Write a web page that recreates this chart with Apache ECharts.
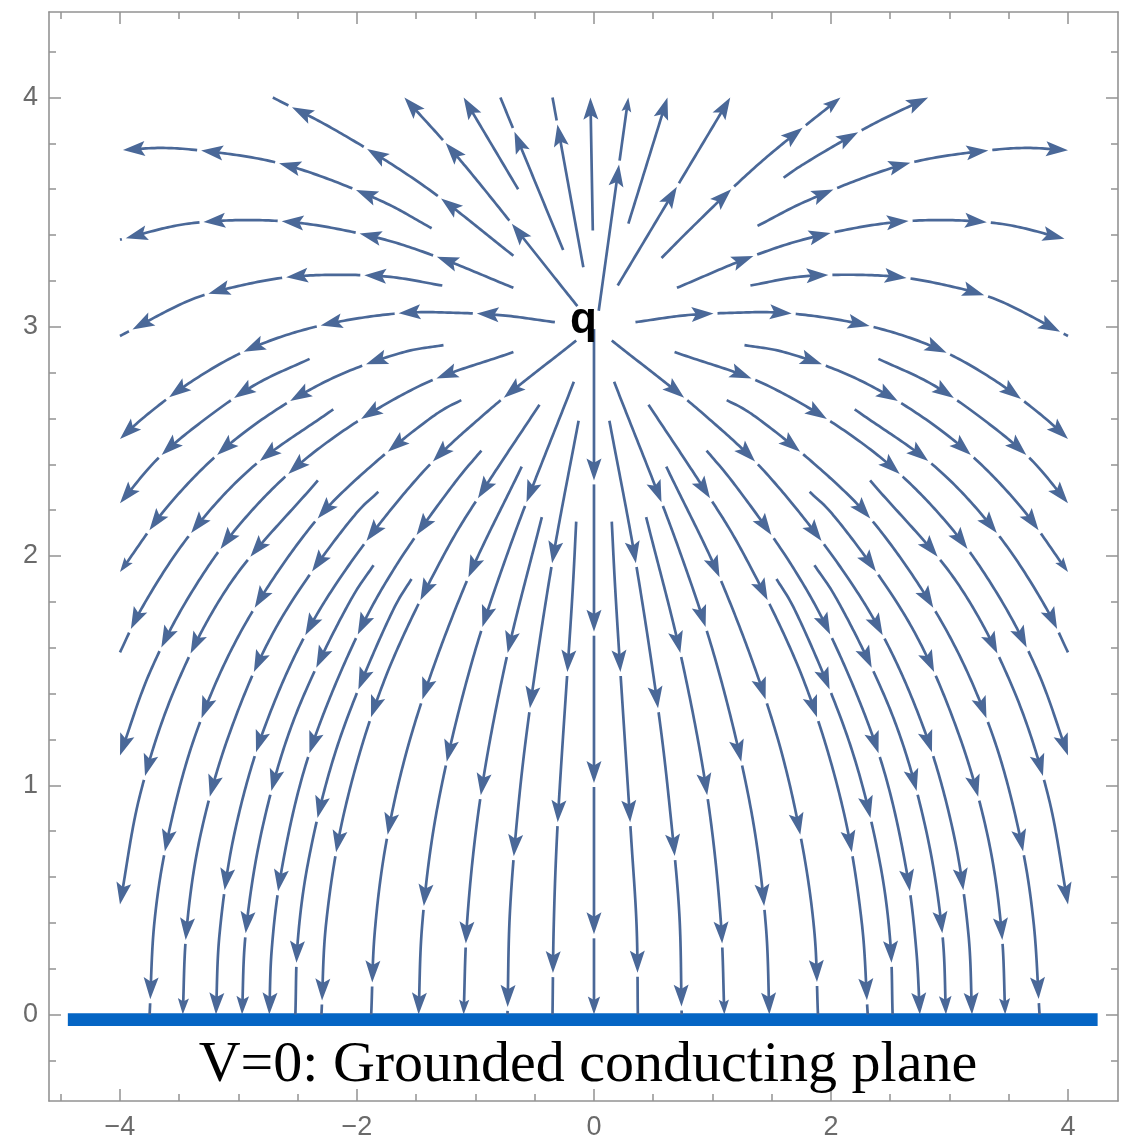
<!DOCTYPE html>
<html>
<head>
<meta charset="utf-8">
<script src="https://cdn.jsdelivr.net/npm/echarts@6/dist/echarts.min.js"></script>
<style>html,body{margin:0;padding:0;background:#fff}#chart{width:1121px;height:1142px}</style>
</head>
<body>
<div id="chart"></div>
<script>
// ---------- axis data ----------
const xRange = [-4.599, 4.422];
const yRange = [-0.377, 4.373];
const xMajorTicks = [-4, -2, 0, 2, 4];
const xMinorTicks = [-4.5, -3.5, -3, -2.5, -1.5, -1, -0.5, 0.5, 1, 1.5, 2.5, 3, 3.5];
const yMajorTicks = [0, 1, 2, 3, 4];
const yMinorTicks = [-0.2, 0.2, 0.4, 0.6, 0.8, 1.2, 1.4, 1.6, 1.8, 2.2, 2.4, 2.6, 2.8, 3.2, 3.4, 3.6, 3.8, 4.2];

// ---------- grounded plane & labels ----------
const planeSegment = [[-4.44, -0.022], [4.25, -0.022]];
const chargeLabel = { text: 'q', x: -0.089, y: 3.024 };
const planeLabel = { text: 'V=0: Grounded conducting plane', x: -0.051, y: -0.222 };

// ---------- streamlines (data coordinates) ----------
const topStreamsLeft = [
  [[-0.68,3.31],[-1.45,3.62],[-2.19,3.86],[-2.71,4.0]],
  [[-0.14,3.09],[-1.15,3.74],[-1.60,4.0]],
  [[-0.64,3.60],[-1.10,4.0]],
  [[-0.26,3.335],[-0.79,4.0]],
  [[-0.09,3.26],[-0.35,4.0]],
  [[-0.01,3.42],[-0.03,4.0]]
];
const topStreamsRight = [
  [[0.04,3.07],[0.29,4.0]],
  [[0.29,3.45],[0.62,4.0]],
  [[0.20,3.18],[1.15,4.0]],
  [[0.57,3.30],[0.84,3.44],[1.39,3.71],[2.08,4.0]],
  [[1.60,3.65],[1.74,3.70],[2.34,3.88],[2.82,4.0]]
];
const sideStreamsLeft = [
  [[-1.37,3.43],[-1.80,3.55],[-2.63,3.71],[-3.34,3.77],[-3.66,3.78],[-4.0,3.77]],
  [[-0.68,3.17],[-1.35,3.31],[-1.84,3.39],[-2.62,3.46],[-3.42,3.45],[-4.0,3.38]],
  [[-1.28,3.18],[-1.77,3.22],[-2.51,3.22],[-2.98,3.18],[-3.39,3.12],[-4.0,2.96]],
  [[-0.33,3.02],[-0.77,3.05],[-1.12,3.06],[-1.62,3.06],[-2.35,3.00],[-2.92,2.90],[-3.40,2.76],[-3.81,2.60],[-4.0,2.51]],
  [[-2.40,2.86],[-2.85,2.75],[-3.30,2.59],[-3.69,2.42],[-4.0,2.23]],
  [[-1.27,2.92],[-1.60,2.89],[-2.27,2.76],[-3.00,2.52],[-3.56,2.24],[-4.0,1.93]],
  [[-2.20,2.64],[-2.90,2.38],[-3.43,2.08],[-3.83,1.76],[-4.0,1.58]],
  [[-0.68,2.89],[-1.48,2.74],[-2.37,2.45],[-2.97,2.15],[-3.41,1.83],[-3.75,1.49],[-4.0,1.13]],
  [[-2.33,2.33],[-3.07,1.88],[-3.53,1.43],[-3.83,0.96],[-4.0,0.48]]
];
const sideStreamsRight = [
  [[1.38,3.44],[1.80,3.55],[2.63,3.71],[3.34,3.77],[3.66,3.78],[4.0,3.77]],
  [[0.70,3.17],[1.35,3.31],[1.84,3.39],[2.62,3.46],[3.42,3.45],[4.0,3.38]],
  [[1.32,3.18],[1.77,3.22],[2.51,3.22],[2.98,3.18],[3.39,3.12],[4.0,2.96]],
  [[0.35,3.02],[0.77,3.05],[1.12,3.06],[1.62,3.06],[2.35,3.00],[2.92,2.90],[3.40,2.76],[3.81,2.60],[4.0,2.51]],
  [[2.40,2.86],[2.85,2.75],[3.30,2.59],[3.69,2.42],[4.0,2.23]],
  [[1.27,2.92],[1.60,2.89],[2.27,2.76],[3.00,2.52],[3.56,2.24],[4.0,1.93]],
  [[2.20,2.64],[2.90,2.38],[3.43,2.08],[3.83,1.76],[4.0,1.58]],
  [[0.68,2.89],[1.48,2.74],[2.37,2.45],[2.97,2.15],[3.41,1.83],[3.75,1.49],[4.0,1.13]],
  [[2.33,2.33],[3.07,1.88],[3.53,1.43],[3.83,0.96],[4.0,0.48]]
];
const planeStreamsLeft = [
  [[-1.12,2.68],[-1.30,2.63],[-1.93,2.37],[-2.37,2.14],[-2.98,1.67],[-3.37,1.21],[-3.61,0.74],[-3.71,0.40],[-3.75,0.0]],
  [[-1.82,2.28],[-2.00,2.19],[-2.67,1.70],[-3.08,1.22],[-3.33,0.76],[-3.44,0.36],[-3.47,0.0]],
  [[-0.15,2.94],[-0.90,2.63],[-1.49,2.34],[-2.31,1.77],[-2.76,1.28],[-3.03,0.80],[-3.16,0.35],[-3.19,0.0]],
  [[-1.86,1.96],[-2.04,1.82],[-2.53,1.29],[-2.80,0.81],[-2.94,0.35],[-2.97,0.0]],
  [[-0.95,2.46],[-1.16,2.33],[-1.68,1.95],[-2.01,1.64],[-2.42,1.11],[-2.64,0.62],[-2.72,0.28],[-2.74,0.0]],
  [[-1.54,1.90],[-1.68,1.78],[-2.16,1.18],[-2.41,0.67],[-2.50,0.32],[-2.52,0.0]],
  [[-0.46,2.66],[-0.92,2.30],[-1.23,2.04],[-1.76,1.47],[-2.10,0.90],[-2.26,0.40],[-2.30,0.0]],
  [[-0.61,2.39],[-1.09,1.87],[-1.53,1.24],[-1.75,0.76],[-1.85,0.36],[-1.88,0.0]],
  [[-0.17,2.76],[-0.71,2.04],[-1.04,1.52],[-1.33,0.88],[-1.45,0.39],[-1.48,0.0]],
  [[-0.44,2.17],[-0.74,1.55],[-0.96,0.94],[-1.07,0.41],[-1.10,0.0]],
  [[-0.13,2.59],[-0.35,1.98],[-0.55,1.30],[-0.64,0.90],[-0.71,0.44],[-0.73,0.0]],
  [[-0.15,2.15],[-0.18,1.85],[-0.31,0.80],[-0.34,0.38],[-0.35,0.0]]
];
const planeStreamsRight = [
  [[1.12,2.68],[1.30,2.63],[1.93,2.37],[2.37,2.14],[2.98,1.67],[3.37,1.21],[3.61,0.74],[3.71,0.40],[3.76,0.0]],
  [[1.82,2.28],[2.00,2.19],[2.67,1.70],[3.08,1.22],[3.33,0.76],[3.44,0.36],[3.47,0.0]],
  [[0.15,2.94],[0.90,2.63],[1.49,2.34],[2.31,1.77],[2.76,1.28],[3.03,0.80],[3.16,0.35],[3.19,0.0]],
  [[1.86,1.96],[2.04,1.82],[2.53,1.29],[2.80,0.81],[2.94,0.35],[2.97,0.0]],
  [[0.95,2.46],[1.16,2.33],[1.68,1.95],[2.01,1.64],[2.42,1.11],[2.64,0.62],[2.72,0.28],[2.75,0.0]],
  [[1.54,1.90],[1.68,1.78],[2.16,1.18],[2.41,0.67],[2.50,0.32],[2.52,0.0]],
  [[0.46,2.66],[0.92,2.30],[1.23,2.04],[1.76,1.47],[2.10,0.90],[2.26,0.40],[2.31,0.0]],
  [[0.61,2.39],[1.09,1.87],[1.53,1.24],[1.75,0.76],[1.86,0.36],[1.89,0.0]],
  [[0.17,2.76],[0.71,2.04],[1.04,1.52],[1.33,0.88],[1.45,0.39],[1.48,0.0]],
  [[0.44,2.17],[0.74,1.55],[0.96,0.94],[1.07,0.41],[1.10,0.0]],
  [[0.13,2.59],[0.35,1.98],[0.55,1.30],[0.64,0.90],[0.72,0.44],[0.74,0.0]],
  [[0.15,2.15],[0.18,1.85],[0.31,0.80],[0.36,0.38],[0.37,0.0]]
];
const centerStream = [[0.0, 2.99], [0.0, 0.0]];

const streams = [].concat(topStreamsLeft, topStreamsRight, sideStreamsLeft, sideStreamsRight,
  planeStreamsLeft, planeStreamsRight, [centerStream]);

// ---------- styles ----------
const STREAM_COLOR = '#4a6898';
const STREAM_WIDTH = 2.7;
const ARROW_SPACING = 0.66;   // along-stream spacing of arrowheads (data units)
const ARROW_LEN = 22, ARROW_HW = 7.5, GAP = 4;
const AXIS_COLOR = '#939393';
const LABEL_COLOR = '#6a6a6a';

// ---------- rendering helpers (pixel space smoothing) ----------
function densify(pts) {
  if (pts.length < 2) return pts.slice();
  const n = pts.length;
  const P = [[2 * pts[0][0] - pts[1][0], 2 * pts[0][1] - pts[1][1]]].concat(pts,
    [[2 * pts[n - 1][0] - pts[n - 2][0], 2 * pts[n - 1][1] - pts[n - 2][1]]]);
  const out = [pts[0]];
  const dist = (a, b) => Math.max(Math.sqrt(Math.hypot(b[0] - a[0], b[1] - a[1])), 1e-4);
  for (let i = 1; i < P.length - 2; i++) {
    const p0 = P[i - 1], p1 = P[i], p2 = P[i + 1], p3 = P[i + 2];
    const t0 = 0, t1 = t0 + dist(p0, p1), t2 = t1 + dist(p1, p2), t3 = t2 + dist(p2, p3);
    const segLen = Math.hypot(p2[0] - p1[0], p2[1] - p1[1]);
    const steps = Math.max(4, Math.ceil(segLen / 3));
    for (let k = 1; k <= steps; k++) {
      const t = t1 + (t2 - t1) * k / steps;
      const lerp = (a, b, ta, tb) => [
        (tb - t) / (tb - ta) * a[0] + (t - ta) / (tb - ta) * b[0],
        (tb - t) / (tb - ta) * a[1] + (t - ta) / (tb - ta) * b[1]];
      const A1 = lerp(p0, p1, t0, t1), A2 = lerp(p1, p2, t1, t2), A3 = lerp(p2, p3, t2, t3);
      const B1 = lerp(A1, A2, t0, t2), B2 = lerp(A2, A3, t1, t3);
      out.push(lerp(B1, B2, t1, t2));
    }
  }
  return out;
}

function renderStream(params, api) {
  const line = streams[params.dataIndex];
  const pts = line.map(p => api.coord(p));
  const unit = api.size([1, 1]);
  const dense = densify(pts);
  const pix = [0], dat = [0];
  for (let i = 1; i < dense.length; i++) {
    const dx = dense[i][0] - dense[i - 1][0], dy = dense[i][1] - dense[i - 1][1];
    pix.push(pix[i - 1] + Math.hypot(dx, dy));
    dat.push(dat[i - 1] + Math.hypot(dx / unit[0], dy / unit[1]));
  }
  const last = dense.length - 1;
  const total = dat[last], totalPix = pix[last];
  const tips = [];
  for (let s = ARROW_SPACING; s < total - 0.02; s += ARROW_SPACING) tips.push([s, 1]);
  const lastS = tips.length ? tips[tips.length - 1][0] : 0;
  const rest = total - lastS;
  if (rest >= 0.27) tips.push([total, Math.min(1, Math.max(0.55, (rest - 0.12) / 0.28))]);

  function pixAt(s) {
    for (let i = 1; i <= last; i++) {
      if (dat[i] >= s) {
        const f = (s - dat[i - 1]) / Math.max(dat[i] - dat[i - 1], 1e-9);
        return pix[i - 1] + f * (pix[i] - pix[i - 1]);
      }
    }
    return totalPix;
  }
  function pointAt(pa) {
    pa = Math.max(0, Math.min(totalPix, pa));
    for (let i = 1; i <= last; i++) {
      if (pix[i] >= pa) {
        const f = (pa - pix[i - 1]) / Math.max(pix[i] - pix[i - 1], 1e-9);
        return [dense[i - 1][0] + f * (dense[i][0] - dense[i - 1][0]),
                dense[i - 1][1] + f * (dense[i][1] - dense[i - 1][1])];
      }
    }
    return dense[last];
  }
  function sub(a, b) {
    const out = [pointAt(a)];
    for (let i = 0; i <= last; i++) if (pix[i] > a && pix[i] < b) out.push(dense[i]);
    out.push(pointAt(b));
    return out;
  }
  const children = [];
  let segStart = 0;
  for (const [s, sc] of tips) {
    const pa = pixAt(s);
    const tip = pointAt(pa);
    const back = pointAt(pa - 8);
    let dx = tip[0] - back[0], dy = tip[1] - back[1];
    const dl = Math.hypot(dx, dy) || 1; dx /= dl; dy /= dl;
    const nx = -dy, ny = dx;
    const len = ARROW_LEN * sc, hw = ARROW_HW * sc;
    const lineEnd = pa - len * 0.6;
    if (lineEnd > segStart + 0.5) {
      children.push({ type: 'polyline', shape: { points: sub(segStart, lineEnd) },
        style: { stroke: STREAM_COLOR, lineWidth: STREAM_WIDTH, fill: null } });
    }
    const bx = tip[0] - dx * len, by = tip[1] - dy * len;
    children.push({ type: 'polygon', shape: { points: [
      tip, [bx + nx * hw, by + ny * hw], [tip[0] - dx * len * 0.8, tip[1] - dy * len * 0.8], [bx - nx * hw, by - ny * hw]] },
      style: { fill: STREAM_COLOR } });
    segStart = pa + GAP;
  }
  if (segStart < totalPix - 0.5) {
    children.push({ type: 'polyline', shape: { points: sub(segStart, totalPix) },
      style: { stroke: STREAM_COLOR, lineWidth: STREAM_WIDTH, fill: null } });
  }
  return { type: 'group', children };
}

const textItems = [
  { label: chargeLabel, font: 'bold 44px "Liberation Sans", Arial, sans-serif' },
  { label: planeLabel, font: '58px "Liberation Serif", "Times New Roman", serif' }
];
function renderText(params, api) {
  const item = textItems[params.dataIndex];
  const c = api.coord([item.label.x, item.label.y]);
  return { type: 'text', x: c[0], y: c[1],
    style: { text: item.label.text, font: item.font, fill: '#000', align: 'center', verticalAlign: 'middle',
      textAlign: 'center', textVerticalAlign: 'middle' } };
}

const fmtX = v => (v < 0 ? '\u2212' + Math.abs(v) : String(v));
function makeX(pos, ticks, len, showLine, showLabel) {
  return {
    type: 'value', position: pos, min: xRange[0], max: xRange[1],
    axisLine: { show: showLine, onZero: false, lineStyle: { color: AXIS_COLOR, width: 1.6 } },
    axisTick: { show: true, inside: true, length: len, customValues: ticks, lineStyle: { color: AXIS_COLOR, width: 1.5 } },
    axisLabel: showLabel ? { show: true, customValues: ticks, formatter: fmtX, color: LABEL_COLOR,
      fontSize: 27, fontFamily: '"Liberation Sans", Arial, sans-serif', margin: 13 } : { show: false },
    splitLine: { show: false }
  };
}
function makeY(pos, ticks, len, showLine, showLabel) {
  return {
    type: 'value', position: pos, min: yRange[0], max: yRange[1],
    axisLine: { show: showLine, onZero: false, lineStyle: { color: AXIS_COLOR, width: 1.6 } },
    axisTick: { show: true, inside: true, length: len, customValues: ticks, lineStyle: { color: AXIS_COLOR, width: 1.5 } },
    axisLabel: showLabel ? { show: true, customValues: ticks, color: LABEL_COLOR,
      fontSize: 27, fontFamily: '"Liberation Sans", Arial, sans-serif', margin: 11 } : { show: false },
    splitLine: { show: false }
  };
}

const chart = echarts.init(document.getElementById('chart'), null, { renderer: 'canvas' });
chart.setOption({
  animation: false,
  backgroundColor: '#ffffff',
  grid: { left: 49, right: 3, top: 12, bottom: 41, containLabel: false },
  xAxis: [
    makeX('bottom', xMajorTicks, 12, true, true),
    makeX('bottom', xMinorTicks, 7, false, false),
    makeX('top', xMajorTicks, 12, true, false),
    makeX('top', xMinorTicks, 7, false, false)
  ],
  yAxis: [
    makeY('left', yMajorTicks, 12, true, true),
    makeY('left', yMinorTicks, 7, false, false),
    makeY('right', yMajorTicks, 12, true, false),
    makeY('right', yMinorTicks, 7, false, false)
  ],
  series: [
    { type: 'line', data: planeSegment, symbol: 'none', silent: true, z: 2,
      lineStyle: { color: '#0565c4', width: 12.7, cap: 'butt' } },
    { type: 'custom', coordinateSystem: 'cartesian2d', renderItem: renderStream, silent: true, z: 3,
      data: streams.map(l => l[0]), encode: { x: 0, y: 1 } },
    { type: 'custom', coordinateSystem: 'cartesian2d', renderItem: renderText, silent: true, z: 4,
      data: textItems.map(t => [t.label.x, t.label.y]), encode: { x: 0, y: 1 } }
  ]
});
</script>
</body>
</html>
